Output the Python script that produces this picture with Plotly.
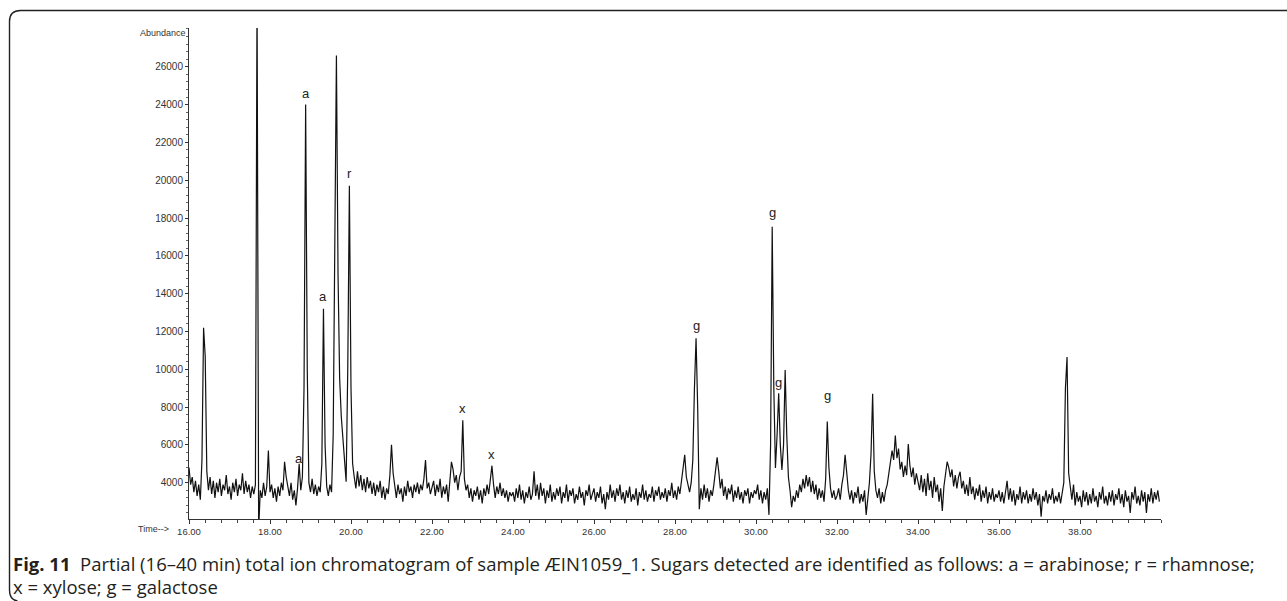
import plotly.graph_objects as go

# ---------------- data ----------------
SCAN_INTERVAL_MIN = 0.04          # sampling step of the readings below (min)
window_starts = [16, 18, 20, 22, 24, 26, 28, 30, 32, 34, 36, 38]

abund_16_18 = [4800, 3900, 4300, 3500, 4100, 3300, 3900, 3100, 5200, 12200,
               10700, 4600, 3600, 4300, 3400, 4100, 3200, 4000, 3500, 4200,
               3300, 3900, 3600, 4400, 3400, 3800, 3100, 4000, 3500, 4200,
               3300, 3900, 3600, 4500, 3400, 4100, 3500, 3900, 3200, 3800,
               3400, 3900, 30000, 1500, 3600, 3200, 4000, 3300, 3800, 5700]
abund_18_20 = [3500, 3900, 3200, 3700, 3000, 3800, 3300, 4000, 3600, 5100,
               4300, 3800, 3300, 4000, 3100, 3600, 2800, 3700, 5000, 3600,
               4300, 9000, 24000, 10000, 4000, 3500, 4200, 3400, 3900, 3300,
               3800, 3500, 5000, 13200, 6000, 3800, 3300, 3900, 3500, 6500,
               18000, 26600, 15000, 9500, 7500, 6200, 5200, 4050, 10000, 19700]
abund_20_22 = [9000, 5000, 4300, 3700, 4600, 3800, 4400, 3600, 4200, 3500,
               4300, 3700, 4100, 3400, 4000, 3300, 3900, 3500, 4100, 3200,
               3800, 3100, 3700, 3400, 4400, 6000, 4500, 3800, 3200, 3900,
               3400, 3700, 3000, 3800, 3300, 4100, 3500, 3800, 3200, 3900,
               3500, 4000, 3400, 3900, 3600, 4200, 5200, 3700, 4000, 3400]
abund_22_24 = [3700, 4100, 3300, 3900, 3500, 4200, 3200, 3800, 3400, 3900,
               3000, 4300, 5100, 4700, 4000, 4400, 3600, 4300, 4600, 7300,
               4200, 3600, 3900, 3200, 3700, 3000, 3600, 3300, 3800, 3100,
               3600, 2900, 3700, 3300, 3900, 3400, 4100, 4900, 3900, 3200,
               3800, 3400, 4000, 3300, 3700, 3200, 3600, 3000, 3500, 3300]
abund_24_26 = [3500, 3000, 3700, 3200, 3900, 3100, 3600, 2900, 3500, 3200,
               3800, 3100, 3400, 4600, 3300, 3900, 3100, 4000, 3300, 3700,
               2900, 3600, 3200, 3900, 3000, 3500, 3100, 3700, 3300, 3800,
               2900, 3500, 3200, 3900, 3000, 3600, 3300, 3700, 2900, 3400,
               3100, 3800, 3200, 3500, 2800, 3600, 3300, 3900, 3100, 3400]
abund_26_28 = [3700, 3000, 3500, 3200, 3800, 2900, 3400, 2600, 3500, 3100,
               3900, 3200, 3600, 3000, 3700, 3300, 3900, 3100, 3500, 2900,
               3600, 3200, 3800, 3000, 3400, 3100, 3700, 2800, 3500, 3200,
               3900, 3100, 3600, 3000, 3400, 3200, 3800, 3000, 3600, 3300,
               3800, 3100, 3500, 3200, 3700, 3000, 3600, 3300, 4000, 3200]
abund_28_30 = [3600, 3100, 3800, 3400, 4100, 4600, 5470, 4300, 3800, 3500,
               4000, 5200, 9000, 11640, 8000, 2600, 3700, 3100, 3900, 3200,
               3700, 3000, 3600, 3300, 3900, 4500, 5340, 4600, 3700, 4200,
               3300, 3800, 3100, 3700, 3400, 3900, 3000, 3600, 3200, 3800,
               3100, 3500, 2900, 3600, 3300, 3700, 2900, 3500, 3200, 3600]
abund_30_32 = [3400, 3900, 3100, 3600, 2900, 3500, 3100, 3700, 2300, 6000,
               17540, 9000, 4780, 6500, 8730, 6000, 4670, 6000, 9960, 6500,
               4300, 3600, 2700, 3300, 3000, 3600, 3200, 3900, 3500, 4200,
               3700, 4400, 3800, 4300, 3500, 4100, 3400, 3900, 3100, 3700,
               3200, 3600, 3000, 4200, 7230, 4800, 3700, 3200, 3600, 3100]
abund_32_34 = [3300, 3700, 3100, 3900, 4400, 5470, 4300, 3600, 3100, 3600,
               2900, 3500, 3200, 3800, 2900, 3400, 3000, 3600, 2300, 3300,
               4000, 5500, 8700, 4600, 3600, 3200, 3700, 2900, 3500, 3000,
               3600, 3900, 4600, 5000, 5700, 5200, 6500, 5300, 5800, 4700,
               5100, 4300, 4900, 4400, 6050, 4900, 4300, 4800, 3900, 4500]
abund_34_36 = [4000, 3600, 4400, 3500, 4200, 3300, 4500, 3600, 4100, 3200,
               4300, 3500, 3900, 3000, 3700, 2500, 3800, 4600, 5110, 4800,
               4300, 4700, 3800, 4400, 3700, 4300, 4580, 3700, 4100, 3400,
               3900, 3300, 4300, 3400, 3800, 3100, 3700, 3300, 3900, 3000,
               3600, 3200, 3800, 2900, 3500, 3100, 3700, 3000, 3400, 3200]
abund_36_38 = [3600, 3000, 3500, 2900, 3400, 4100, 3100, 3700, 3000, 3600,
               2800, 3400, 3100, 3800, 2900, 3500, 3100, 3600, 2900, 3400,
               3000, 3700, 3100, 3500, 2800, 3400, 2200, 3300, 3000, 3600,
               2900, 3400, 3100, 3700, 2900, 3300, 3000, 3500, 2900, 3400,
               4000, 9000, 10650, 4500, 3700, 3100, 3900, 2800, 3500, 3000]
abund_38_40 = [3300, 2700, 3600, 3000, 3500, 2800, 3400, 2900, 3700, 3000,
               3300, 2700, 3500, 3100, 3800, 2900, 3300, 2800, 3500, 3000,
               3600, 2800, 3400, 3100, 3700, 2900, 3400, 2700, 3600, 3000,
               3300, 2400, 3500, 3100, 3800, 2900, 3300, 2800, 3600, 3000,
               3500, 2400, 3400, 3000, 3700, 2900, 3500, 3100, 3600, 3000]

windows = [abund_16_18, abund_18_20, abund_20_22, abund_22_24, abund_24_26,
           abund_26_28, abund_28_30, abund_30_32, abund_32_34, abund_34_36,
           abund_36_38, abund_38_40]

# identified sugar peaks
peak_labels = ["a", "a", "a", "r", "x", "x", "g", "g", "g", "g"]
peak_times = [18.72, 18.88, 19.32, 19.96, 22.76, 23.48, 28.52, 30.40, 30.56, 31.76]
peak_heights = [5040, 24000, 13200, 19700, 7300, 4900, 11640, 17540, 8730, 7230]

x_tick_values = [16, 18, 20, 22, 24, 26, 28, 30, 32, 34, 36, 38]
y_tick_values = [4000, 6000, 8000, 10000, 12000, 14000, 16000, 18000,
                 20000, 22000, 24000, 26000]

caption_line1 = ("<b>Fig. 11</b>\u00a0\u00a0Partial (16–40 min) total ion chromatogram of sample "
                 "ÆIN1059_1. Sugars detected are identified as follows: a = arabinose; r = rhamnose;")
caption_line2 = "x = xylose; g = galactose"

# ---------------- styling / layout ----------------
W, H = 1287, 601
ML, MR, MT, MB = 189, 126, 28, 82
PW, PH = W - ML - MR, H - MT - MB
label_shift_px = [5, 11, 12, 12, 12, 11, 13, 14, 11, 26]

def px_x(px):
    return (px - ML) / PW

def px_y(py):
    return (H - MB - py) / PH

times, values = [], []
for start, vals in zip(window_starts, windows):
    for i, v in enumerate(vals):
        times.append(round(start + i * SCAN_INTERVAL_MIN, 4))
        values.append(v)

fig = go.Figure()
fig.add_trace(go.Scatter(x=times, y=values, mode="lines",
                         line=dict(color="#111111", width=1.2),
                         hoverinfo="skip", showlegend=False))

annotations = []
for lab, t, h, s in zip(peak_labels, peak_times, peak_heights, label_shift_px):
    annotations.append(dict(x=t, y=h, xref="x", yref="y", text=lab, showarrow=False,
                            yanchor="middle", xanchor="center", yshift=s,
                            font=dict(family="Liberation Sans, Arial", size=13, color="#222")))

annotations.append(dict(x=px_x(188), y=px_y(33), xref="paper", yref="paper",
                        text="Abundance", showarrow=False, xanchor="right", yanchor="middle",
                        font=dict(family="Liberation Sans, Arial", size=9, color="#333")))
annotations.append(dict(x=px_x(171), y=px_y(529), xref="paper", yref="paper",
                        text="Time-->", showarrow=False, xanchor="right", yanchor="middle",
                        font=dict(family="Liberation Sans, Arial", size=9, color="#333")))
cap_font = dict(family="Open Sans", size=18.5, color="#231f20")
annotations.append(dict(x=px_x(11), y=px_y(563), xref="paper", yref="paper",
                        text=caption_line1, showarrow=False, xanchor="left", yanchor="middle",
                        font=cap_font))
annotations.append(dict(x=px_x(11), y=px_y(586), xref="paper", yref="paper",
                        text=caption_line2, showarrow=False, xanchor="left", yanchor="middle",
                        font=cap_font))

# rounded frame (top and left edges)
x0, y0, r = 9.5, 10.5, 11
path = (f"M {px_x(W)} {px_y(y0)} L {px_x(x0 + r)} {px_y(y0)} "
        f"Q {px_x(x0)} {px_y(y0)} {px_x(x0)} {px_y(y0 + r)} "
        f"L {px_x(x0)} {px_y(590)} Q {px_x(x0)} {px_y(600)} {px_x(x0 + 8)} {px_y(601)}")
shapes = [dict(type="path", xref="paper", yref="paper", path=path,
               line=dict(color="#222", width=1.4))]

fig.update_layout(
    width=W, height=H,
    margin=dict(l=ML, r=MR, t=MT, b=MB, pad=0),
    paper_bgcolor="white", plot_bgcolor="white",
    annotations=annotations, shapes=shapes,
    xaxis=dict(range=[16, 40], tickmode="array", tickvals=x_tick_values,
               tickformat=".2f", showgrid=False, zeroline=False,
               showline=True, linecolor="#333", linewidth=1,
               ticks="outside", ticklen=4, tickcolor="#333",
               tickfont=dict(family="Liberation Sans, Arial", size=9.5, color="#333"),
               minor=dict(tickmode="linear", tick0=16, dtick=0.4, ticks="outside",
                          ticklen=3, tickcolor="#444", showgrid=False)),
    yaxis=dict(range=[2080, 28050], tickmode="array", tickvals=y_tick_values,
               tickformat="d", showgrid=False, zeroline=False,
               showline=True, linecolor="#333", linewidth=1,
               ticks="outside", ticklen=3, tickcolor="#333",
               tickfont=dict(family="Liberation Sans, Arial", size=10, color="#333"),
               minor=dict(tickmode="linear", tick0=0, dtick=400, ticks="outside",
                          ticklen=2, tickcolor="#666", showgrid=False)),
)

fig.write_html("out.html")
